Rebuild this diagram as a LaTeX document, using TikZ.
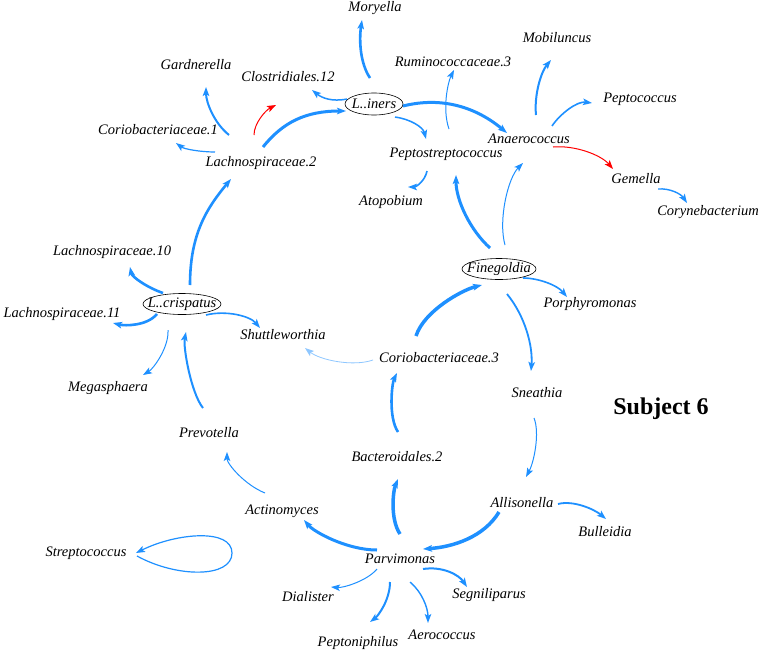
\documentclass[tikz,border=0pt]{standalone}
\usepackage{fontspec}
\setmainfont{Liberation Serif}
\usetikzlibrary{arrows.meta,calc,shapes.geometric}
\definecolor{eblue}{RGB}{30,144,255}
\definecolor{ered}{RGB}{255,0,0}
\tikzset{
  lab/.style={font=\fontsize{14.5}{17}\selectfont\itshape, inner sep=1pt},
  ell/.style={draw=black, line width=0.6pt, ellipse, inner sep=0pt, font=\fontsize{14.5}{17}\selectfont\itshape},
  tip/.style={-{Stealth[length=9pt,width=6.5pt,inset=2pt]}},
  e/.style={tip, draw=eblue, line width=#1},
  e/.default=1.5pt,
  r/.style={tip, draw=ered, line width=1pt},
}
\begin{document}
\begin{tikzpicture}[x=1pt,y=-1pt]
\useasboundingbox[fill=white] (0,0) rectangle (762,653);
% nodes
\node[lab] (moryella) at (375,8) {Moryella};
\node[lab] (gardnerella) at (196,65) {Gardnerella};
\node[lab] (clostr) at (288,77) {Clostridiales.12};
\node[ell, minimum width=58pt, minimum height=22pt] (liners) at (374,104) {\makebox[0pt]{L..iners}};
\node[lab] (corio1) at (158,130) {Coriobacteriaceae.1};
\node[lab] (lach2) at (261,163) {Lachnospiraceae.2};
\node[lab] (rumino) at (453,62) {Ruminococcaceae.3};
\node[lab] (mobil) at (557,38) {Mobiluncus};
\node[lab] (peptococ) at (640,99) {Peptococcus};
\node[lab] (anaero) at (529,139) {Anaerococcus};
\node[lab] (peptostr) at (446,154) {Peptostreptococcus};
\node[lab] (gemella) at (636,179) {Gemella};
\node[lab] (coryne) at (708,212) {Corynebacterium};
\node[lab] (atopo) at (391,202) {Atopobium};
\node[ell, minimum width=74pt, minimum height=21pt] (fine) at (499,269) {\makebox[0pt]{Finegoldia}};
\node[lab] (porphyro) at (590,304) {Porphyromonas};
\node[lab] (corio3) at (439,358) {Coriobacteriaceae.3};
\node[lab] (sneathia) at (537,393) {Sneathia};
\node[lab] (lach10) at (112,252) {Lachnospiraceae.10};
\node[ell, minimum width=78pt, minimum height=21pt] (crisp) at (182,304) {\makebox[0pt]{L..crispatus}};
\node[lab] (lach11) at (62,314) {Lachnospiraceae.11};
\node[lab] (shuttle) at (283,335) {Shuttleworthia};
\node[lab] (megas) at (108,388) {Megasphaera};
\node[lab] (prevo) at (209,433) {Prevotella};
\node[lab] (bactero) at (397,457) {Bacteroidales.2};
\node[lab] (allis) at (522,503) {Allisonella};
\node[lab] (bulle) at (605,532) {Bulleidia};
\node[font=\fontsize{24}{28}\selectfont\bfseries] (subj) at (661,409) {Subject 6};
\node[lab] (actino) at (282,511) {Actinomyces};
\node[lab] (strepto) at (86,553) {Streptococcus};
\node[lab] (parvi) at (400,559) {Parvimonas};
\node[lab] (dial) at (308,597) {Dialister};
\node[lab] (segni) at (489,595) {Segniliparus};
\node[lab] (pepton) at (358,643) {Peptoniphilus};
\node[lab] (aero) at (442,635) {Aerococcus};
\coordinate (redtip) at (276,105);
% edges
\draw[e=2.6pt] ($(crisp)+(8,-19)$) .. controls +(0,-50) and +(-25,30) .. ($(lach2)+(-30,16)$);
\draw[e=3pt] ($(lach2)+(2,-16)$) .. controls +(20,-25) and +(-40,0) .. ($(liners)+(-28,7)$);
\draw[e=3pt] ($(liners)+(29,2)$) .. controls +(40,-10) and +(-30,-25) .. ($(anaero)+(-22,-6)$);
\draw[e=1.5pt] ($(liners)+(-27,-5)$) .. controls +(-15,3) and +(10,8) .. ($(clostr)+(24,13)$);
\draw[e=1.5pt] ($(liners)+(21,13)$) .. controls +(15,2) and +(-3,-12) .. ($(peptostr)+(-20,-15)$);
\draw[e=2.6pt] ($(liners)+(-4,-26)$) .. controls +(-10,-15) and +(-3,20) .. ($(moryella)+(-13,12)$);
\draw[e=2pt] ($(lach2)+(-32,-28)$) .. controls +(-15,-12) and +(0,15) .. ($(gardnerella)+(10,22)$);
\draw[e=1.2pt] ($(lach2)+(-46,-11)$) .. controls +(-15,0) and +(8,6) .. ($(corio1)+(18,13)$);
\draw[r] ($(lach2)+(-7,-28)$) .. controls +(0,-12) and +(-10,5) .. (redtip);
\draw[e=1pt] ($(peptostr)+(3,-25)$) .. controls +(-7,-20) and +(-6,12) .. ($(rumino)+(1,8)$);
\draw[e=2pt] ($(anaero)+(7,-24)$) .. controls +(-2,-20) and +(-10,12) .. ($(mobil)+(-6,22)$);
\draw[e=1.6pt] ($(anaero)+(23,-13)$) .. controls +(8,-12) and +(-15,-2) .. ($(peptococ)+(-48,4)$);
\draw[r] ($(anaero)+(24,8)$) .. controls +(22,-2) and +(-12,-14) .. ($(gemella)+(-23,-10)$);
\draw[e=1.4pt] ($(gemella)+(22,10)$) .. controls +(12,-1) and +(-6,-9) .. ($(coryne)+(-21,-9)$);
\draw[e=1.6pt] ($(peptostr)+(-19,17)$) .. controls +(-2,10) and +(8,0) .. ($(atopo)+(17,-15)$);
\draw[e=3pt] ($(fine)+(-9,-21)$) .. controls +(-20,-18) and +(0,25) .. ($(peptostr)+(10,21)$);
\draw[e=1pt] ($(fine)+(6,-24)$) .. controls +(-7,-25) and +(-15,15) .. ($(anaero)+(-6,24)$);
\draw[e=1.6pt] ($(fine)+(24,9)$) .. controls +(15,0) and +(-10,-12) .. ($(porphyro)+(-23,-7)$);
\draw[e=1.8pt] ($(fine)+(8,25)$) .. controls +(18,22) and +(2,-25) .. ($(sneathia)+(-6,-22)$);
\draw[e=3.5pt] ($(corio3)+(-23,-22)$) .. controls +(8,-25) and +(-20,5) .. ($(fine)+(-17,16)$);
\draw[e=0.8pt, draw=eblue!50] ($(corio3)+(-66,2)$) .. controls +(-20,7) and +(15,12) .. ($(shuttle)+(22,13)$);
\draw[e=1.6pt] ($(crisp)+(24,11)$) .. controls +(20,-5) and +(-10,-12) .. ($(shuttle)+(-23,-7)$);
\draw[e=2.6pt] ($(crisp)+(-19,-11)$) .. controls +(-15,-5) and +(2,10) .. ($(lach10)+(18,15)$);
\draw[e=2.6pt] ($(crisp)+(-25,10)$) .. controls +(-10,12) and +(12,3) .. ($(lach11)+(51,9)$);
\draw[e=1pt] ($(crisp)+(-14,26)$) .. controls +(1,18) and +(10,-6) .. ($(megas)+(35,-13)$);
\draw[e=2pt] ($(prevo)+(-6,-25)$) .. controls +(-12,-15) and +(-3,15) .. ($(crisp)+(4,28)$);
\draw[e=1pt] ($(actino)+(-17,-18)$) .. controls +(-20,-8) and +(0,12) .. ($(prevo)+(18,19)$);
\draw[e=3pt] ($(parvi)+(-23,-9)$) .. controls +(-30,0) and +(10,12) .. ($(actino)+(22,9)$);
\draw[e=3.5pt] ($(parvi)+(0,-25)$) .. controls +(-10,-15) and +(-5,12) .. ($(bactero)+(1,22)$);
\draw[e=2.6pt] ($(bactero)+(1,-25)$) .. controls +(-10,-15) and +(-5,10) .. ($(corio3)+(-42,15)$);
\draw[e=1pt] ($(sneathia)+(-3,25)$) .. controls +(6,15) and +(8,-15) .. ($(allis)+(4,-26)$);
\draw[e=3.5pt] ($(allis)+(-23,9)$) .. controls +(-15,25) and +(30,-2) .. ($(parvi)+(23,-10)$);
\draw[e=1.8pt] ($(allis)+(36,1)$) .. controls +(15,-4) and +(-12,-10) .. ($(bulle)+(1,-13)$);
\draw[e=2pt] ($(parvi)+(23,10)$) .. controls +(20,-3) and +(-8,-12) .. ($(segni)+(-22,-8)$);
\draw[e=1.4pt] ($(parvi)+(10,23)$) .. controls +(12,10) and +(0,-15) .. ($(aero)+(-14,-12)$);
\draw[e=2pt] ($(parvi)+(-10,23)$) .. controls +(0,18) and +(8,-6) .. ($(pepton)+(12,-21)$);
\draw[e=1pt] ($(parvi)+(-23,10)$) .. controls +(-10,12) and +(12,1) .. ($(dial)+(23,-10)$);
\draw[e=1.2pt] ($(strepto)+(51,3)$) .. controls +(40,22) and +(0,25) .. ($(strepto)+(146,0)$) .. controls +(0,-25) and +(40,-20) .. ($(strepto)+(50,0)$);
\end{tikzpicture}
\end{document}
